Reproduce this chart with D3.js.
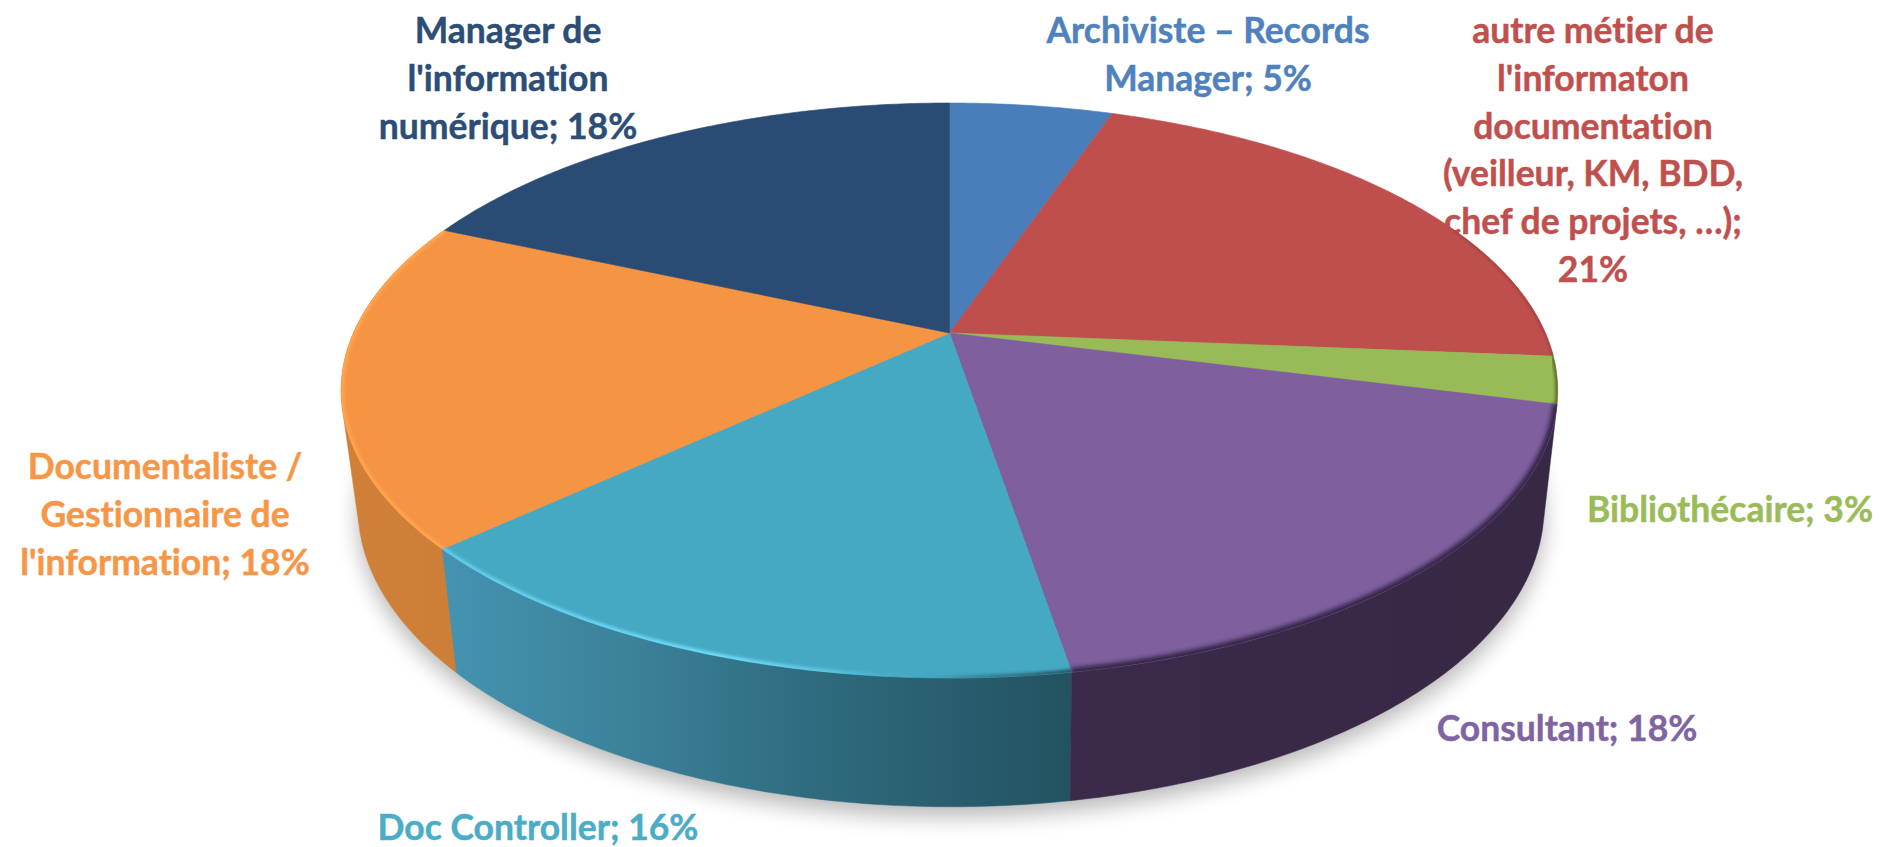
<!DOCTYPE html>
<html><head><meta charset="utf-8">
<script src="https://cdnjs.cloudflare.com/ajax/libs/d3/7.8.5/d3.min.js"></script>
<style>html,body{margin:0;padding:0;background:#fff;overflow:hidden}svg{display:block}text{font-family:Lato,Carlito,sans-serif;font-weight:700;font-variant-ligatures:none}</style>
</head><body><svg id="c" width="1881" height="847"></svg>
<script>
const categories = ["Archiviste – Records Manager","autre métier de l'informaton documentation (veilleur, KM, BDD, chef de projets, …)","Bibliothécaire","Consultant","Doc Controller","Documentaliste / Gestionnaire de l'information","Manager de l'information numérique"];
const counts = [2,8,1,7,6,7,7];
const topColors = ["#4a7ebb","#be4f4c","#98ba57","#7f5f9e","#46a9c4","#f59443","#2a4b73"];
const textColors = ["#4f81bd","#c0504d","#9bbb59","#8064a2","#4bacc6","#f79646","#2c4d75"];
const labelLines = [
 ["Archiviste – Records","Manager; 5%"],
 ["autre métier de","l'informaton","documentation","(veilleur, KM, BDD,","chef de projets, …);","21%"],
 ["Bibliothécaire; 3%"],
 ["Consultant; 18%"],
 ["Doc Controller; 16%"],
 ["Documentaliste /","Gestionnaire de","l'information; 18%"],
 ["Manager de","l'information","numérique; 18%"]
];
const labelAnchor = [[1208,43],[1593,43],[1730,522],[1567,741],[538,840],[165,479],[508,43]];
const fontSize = 35.5, lineGap = 47.8;

const svg = d3.select("#c"), defs = svg.append("defs");
const P = 0.2;
const f = t => Math.sin(t)/(1+P*Math.cos(t));
const g = t => -Math.cos(t)/(1+P*Math.cos(t));
// top disc and (further, lower) base disc: linear scales over the projected unit circle
const xTop = d3.scaleLinear().domain([-1,1]).range([949.5-596,949.5+596]);
const yTop = d3.scaleLinear().domain([-1,1]).range([333-276,333+276]);
const xBase = d3.scaleLinear().domain([-1,1]).range([951-581,951+581]);
const yBase = d3.scaleLinear().domain([-1,1]).range([448-287,448+287]);
const arcPts = (a0,a1,xs,ys) => {
  const n = Math.max(2,Math.ceil((a1-a0)/0.01));
  return d3.range(n+1).map(i=>{const t=a0+(a1-a0)*i/n;return [xs(f(t)),ys(g(t))];});
};
const line = d3.line().curve(d3.curveLinear);
const slices = d3.pie().sort(null).value(d=>d)(counts);

// filters
const blur=(id,s)=>defs.append("filter").attr("id",id).attr("x","-20%").attr("y","-20%").attr("width","140%").attr("height","140%")
  .append("feGaussianBlur").attr("stdDeviation",s);
blur("shadow",11); blur("soft",1.6);  blur("soft2",2.2);
const grad=(id,x1,x2,stops)=>{const l=defs.append("linearGradient").attr("id",id).attr("gradientUnits","userSpaceOnUse")
   .attr("x1",x1).attr("x2",x2).attr("y1",0).attr("y2",0);
   stops.forEach(s=>l.append("stop").attr("offset",s[0]).attr("stop-color",s[1]).attr("stop-opacity",s[2]===undefined?1:s[2]));};
grad("wallTeal",447,1068,[[0,"#4493b0"],[0.3,"#3b8199"],[0.6,"#2f6a7d"],[1,"#235361"]]);
grad("wallOrange",340,460,[[0,"#d18038"],[1,"#cd7e37"]]);
grad("wallPurple",1068,1560,[[0,"#3b2a4a"],[1,"#372844"]]);
grad("rimTeal",447,1070,[[0,"#62cdea"],[0.45,"#70dcf8"],[0.62,"#5cc4e0"],[0.75,"#46a9c4",0.2],[0.85,"#2f6f80",0.6],[1,"#245564",1]]);

// labels sit under the pie
const labels = svg.append("g");
labelLines.forEach((ls,i)=>{
  const t=labels.append("text").attr("text-anchor","middle").attr("fill",textColors[i]).attr("stroke",textColors[i]).attr("stroke-width",0.45).attr("font-size",fontSize);
  ls.forEach((s,k)=>t.append("tspan").attr("x",labelAnchor[i][0]).attr("y",labelAnchor[i][1]+k*lineGap).text(s));
});

// shadow
svg.append("path").attr("d",line(arcPts(0,2*Math.PI,xBase,yBase))+"Z")
  .attr("transform","translate(0,10)").attr("fill","#000").attr("opacity",0.28).attr("filter","url(#shadow)");

// walls: hull of the top and base arcs, back to front
const wallFill = {3:"url(#wallPurple)",4:"url(#wallTeal)",5:"url(#wallOrange)"};
svg.append("g").selectAll("path").data(slices.filter(d=>wallFill[d.index]).sort((a,b)=>b.index-a.index)).join("path")
  .attr("d",d=>line(d3.polygonHull(arcPts(d.startAngle,d.endAngle,xTop,yTop).concat(arcPts(d.startAngle,d.endAngle,xBase,yBase))))+"Z")
  .attr("fill",d=>wallFill[d.index]).attr("stroke",d=>wallFill[d.index]).attr("stroke-width",0.5);

// top faces
svg.append("g").selectAll("path").data(slices).join("path")
  .attr("d",d=>line([[xTop(0),yTop(0)]].concat(arcPts(d.startAngle,d.endAngle,xTop,yTop)))+"Z")
  .attr("fill",d=>topColors[d.index]).attr("stroke",d=>topColors[d.index]).attr("stroke-width",0.6);

// bevel along the rim
const clipRim = defs.append("clipPath").attr("id","disc");
clipRim.append("path").attr("d",line(arcPts(0,2*Math.PI,xTop,yTop))+"Z");
const rimStyle = [
 {i:3,c:"#36274a",w:9,fl:"soft2",op:1},
 {i:4,c:"url(#rimTeal)",w:6,fl:"soft",op:1},
 {i:5,c:"#ffa44f",w:6,fl:"soft",op:1},
 {i:1,c:"#6e2a2a",w:2.4,fl:"soft",op:0.5,from:0.62},
 {i:2,c:"#4a5a20",w:5,fl:"soft",op:0.8}
];
const rim = svg.append("g").attr("clip-path","url(#disc)");
rimStyle.forEach(r=>{
  const d=slices[r.i], a0=d.startAngle+(r.from||0)*(d.endAngle-d.startAngle);
  rim.append("path").attr("d",line(arcPts(a0,d.endAngle,xTop,yTop))).attr("fill","none")
    .attr("stroke",r.c).attr("stroke-width",r.w).attr("opacity",r.op).attr("filter","url(#"+r.fl+")");
});
</script></body></html>
